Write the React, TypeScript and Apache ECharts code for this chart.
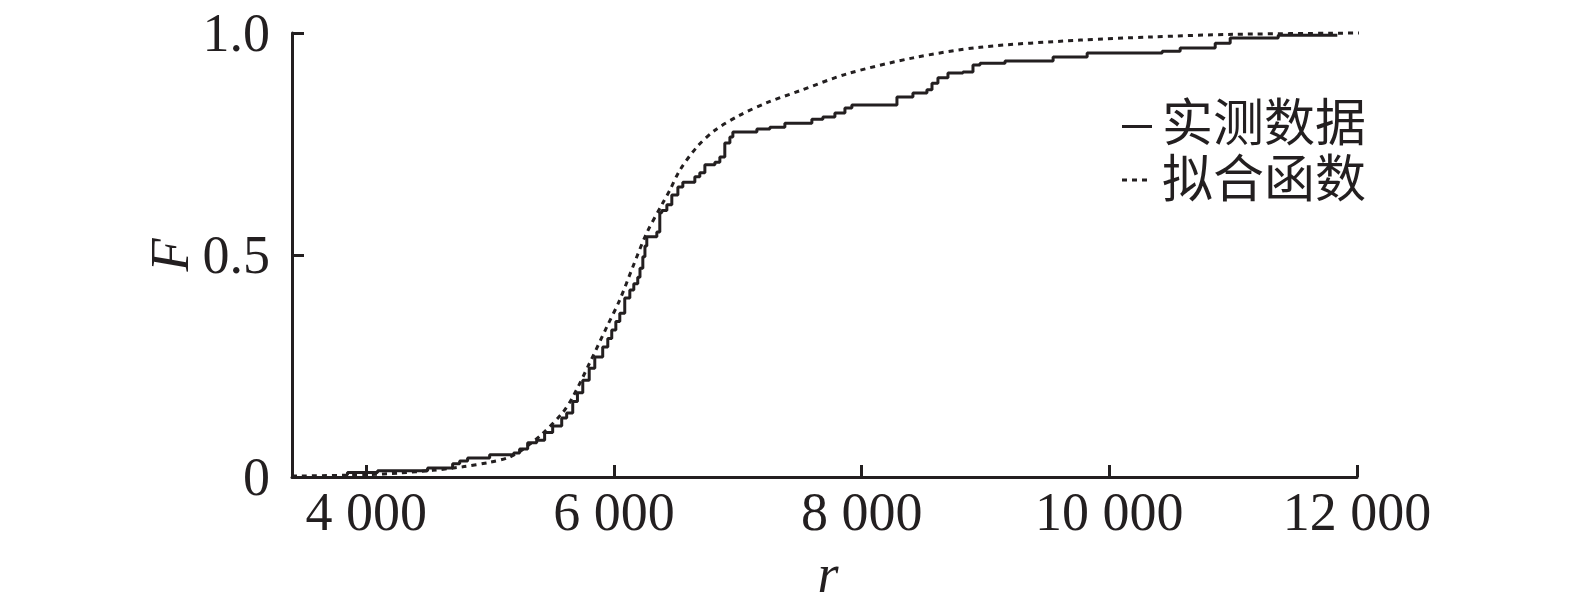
import React, { useEffect, useRef } from "react";
import * as echarts from "echarts";

const xTicks = [4000, 6000, 8000, 10000, 12000];
const yTicks = [0, 0.5, 1.0];
const seriesNames = ["实测数据", "拟合函数"];

// measured (empirical CDF) steps: [r, F]
const measured: [number, number][] = [
  [3840, 0.005], [3848, 0.01], [4091, 0.014], [4495, 0.02], [4697, 0.03], [4754, 0.036],
  [4818, 0.043], [4996, 0.05], [5190, 0.054], [5238, 0.063], [5303, 0.077], [5376, 0.083],
  [5440, 0.1], [5505, 0.115], [5578, 0.133], [5618, 0.144], [5667, 0.17], [5705, 0.19],
  [5748, 0.218], [5800, 0.245], [5845, 0.27], [5909, 0.293], [5950, 0.312], [5982, 0.331],
  [6015, 0.35], [6047, 0.369], [6087, 0.403], [6128, 0.421], [6160, 0.435], [6192, 0.45],
  [6210, 0.47], [6233, 0.496], [6250, 0.52], [6265, 0.541], [6346, 0.552], [6370, 0.595],
  [6386, 0.6], [6427, 0.613], [6467, 0.635], [6516, 0.653], [6556, 0.664], [6653, 0.676],
  [6693, 0.685], [6734, 0.703], [6815, 0.709], [6855, 0.721], [6895, 0.752], [6936, 0.766],
  [6960, 0.777], [7154, 0.784], [7259, 0.788], [7380, 0.797], [7598, 0.806], [7687, 0.811],
  [7784, 0.82], [7865, 0.831], [7921, 0.838], [8285, 0.856], [8414, 0.865], [8527, 0.872],
  [8568, 0.887], [8616, 0.899], [8697, 0.91], [8818, 0.912], [8899, 0.928], [8956, 0.932],
  [9158, 0.937], [9546, 0.946], [9821, 0.955], [10427, 0.959], [10572, 0.966], [10855, 0.977],
  [10976, 0.989], [11364, 0.995], [11841, 0.995],
];

// fitted distribution function: [r, F]
const fitted: [number, number][] = [
  [3400, 0.002], [4002, 0.005], [4269, 0.009], [4535, 0.015], [4778, 0.023], [4996, 0.033],
  [5150, 0.044], [5263, 0.062], [5424, 0.098], [5586, 0.145], [5667, 0.18], [5804, 0.257],
  [5942, 0.338], [6047, 0.399], [6152, 0.473], [6265, 0.55], [6394, 0.617], [6451, 0.646],
  [6532, 0.691], [6669, 0.743], [6815, 0.781], [7017, 0.815], [7235, 0.843], [7501, 0.87],
  [7882, 0.908], [8416, 0.944], [8957, 0.968], [9765, 0.984], [10331, 0.991], [11001, 0.997],
  [12060, 1.0],
];

const INK = "#231f20";
const SERIF = '"Liberation Serif", "Times New Roman", serif';
const CJK = '"Liberation Serif", "Noto Sans CJK SC", sans-serif';

const fmtX = (v: number) => {
  const s = String(Math.round(v));
  return s.replace(/\B(?=(\d{3})+(?!\d))/g, " ");
};

export default function App() {
  const ref = useRef<HTMLDivElement>(null);
  useEffect(() => {
    if (!ref.current) return;
    const chart = echarts.init(ref.current, undefined, { renderer: "svg" });
    chart.setOption({
      animation: false,
      backgroundColor: "#ffffff",
      grid: { left: 292, right: 218, top: 33, bottom: 133, containLabel: false },
      xAxis: {
        type: "value",
        min: 3400,
        max: 12000,
        splitLine: { show: false },
        axisLine: { show: true, lineStyle: { color: INK, width: 3 } },
        axisTick: {
          show: true,
          inside: true,
          length: 12,
          lineStyle: { color: INK, width: 3 },
          customValues: xTicks,
        },
        axisLabel: {
          customValues: xTicks,
          formatter: (v: number) => fmtX(v),
          fontSize: 54,
          fontFamily: SERIF,
          color: INK,
          margin: 8,
        },
      },
      yAxis: {
        type: "value",
        min: 0,
        max: 1,
        interval: 0.5,
        splitLine: { show: false },
        axisLine: { show: true, lineStyle: { color: INK, width: 3 } },
        axisTick: {
          show: true,
          inside: true,
          length: 12,
          lineStyle: { color: INK, width: 3 },
          customValues: yTicks,
        },
        axisLabel: {
          customValues: yTicks,
          formatter: (v: number) => (v === 0 ? "0" : v.toFixed(1)),
          fontSize: 54,
          fontFamily: SERIF,
          color: INK,
          margin: 22,
        },
      },
      graphic: [
        {
          type: "text",
          x: 170,
          y: 255,
          rotation: Math.PI / 2,
          style: {
            text: "F",
            font: 'italic 54px "Liberation Serif"',
            fill: INK,
            align: "center",
            verticalAlign: "middle",
          },
        },
        {
          type: "text",
          x: 828,
          y: 574,
          style: {
            text: "r",
            font: 'italic 54px "Liberation Serif"',
            fill: INK,
            align: "center",
            verticalAlign: "middle",
          },
        },
        {
          type: "line",
          shape: { x1: 1122, y1: 126.5, x2: 1152, y2: 126.5 },
          style: { stroke: INK, lineWidth: 3 },
        },
        {
          type: "line",
          shape: { x1: 1122, y1: 180, x2: 1150, y2: 180 },
          style: { stroke: INK, lineWidth: 3, lineDash: [5, 5] },
        },
        {
          type: "text",
          x: 1162,
          y: 124,
          style: {
            text: seriesNames[0],
            font: `51px ${CJK}`,
            lineHeight: 50,
            fill: INK,
            align: "left",
            verticalAlign: "middle",
          },
        },
        {
          type: "text",
          x: 1162,
          y: 180,
          style: {
            text: seriesNames[1],
            font: `51px ${CJK}`,
            lineHeight: 50,
            fill: INK,
            align: "left",
            verticalAlign: "middle",
          },
        },
      ],
      series: [
        {
          name: seriesNames[0],
          type: "line",
          step: "end",
          data: measured,
          symbol: "none",
          lineStyle: { color: INK, width: 3 },
          itemStyle: { color: INK },
        },
        {
          name: seriesNames[1],
          type: "line",
          smooth: 0.3,
          clip: false,
          data: fitted,
          symbol: "none",
          lineStyle: { color: INK, width: 3, type: [5, 5] },
          itemStyle: { color: INK },
        },
      ],
    });
    return () => chart.dispose();
  }, []);
  return (
    <div
      ref={ref}
      style={{ position: "absolute", left: 0, top: 0, width: 1575, height: 610, background: "#fff" }}
    />
  );
}
